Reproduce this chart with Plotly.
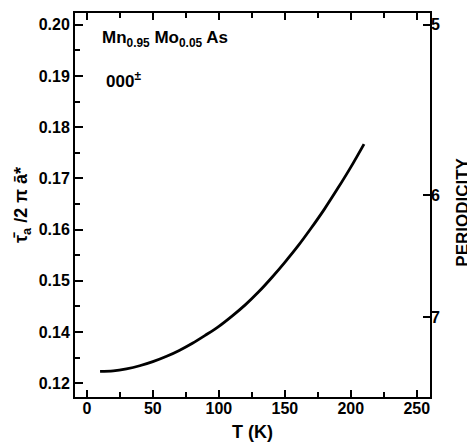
import plotly.graph_objects as go

# Data
temperature_K = [10, 20, 30, 40, 50, 60, 70, 80, 90, 100, 110, 120, 130, 140,
                 150, 160, 170, 180, 190, 200, 210]
tau_ratio = [0.1323, 0.1324, 0.1328, 0.1334, 0.1342, 0.1352, 0.1364, 0.1378,
             0.1394, 0.1411, 0.1431, 0.1453, 0.1478, 0.1506, 0.1536, 0.1568,
             0.1603, 0.1640, 0.1680, 0.1722, 0.1767]

x_tick_vals = [0, 50, 100, 150, 200, 250]
y_tick_vals = [0.13, 0.14, 0.15, 0.16, 0.17, 0.18, 0.19, 0.20]
y_tick_text = ["0.12", "0.14", "0.15", "0.16", "0.17", "0.18", "0.19", "0.20"]
periodicity = [5, 6, 7]

FONT = "Liberation Sans"
x_range = [-9, 260]
y_range = [0.1273, 0.2023]

fig = go.Figure()
fig.add_trace(go.Scatter(x=temperature_K, y=tau_ratio, mode="lines",
                         line=dict(color="black", width=2.8, shape="spline"),
                         showlegend=False, hoverinfo="skip"))
# invisible trace to activate the right axis
fig.add_trace(go.Scatter(x=[None], y=[None], yaxis="y2", showlegend=False))

tickfont = dict(family=FONT, size=16, color="black", weight="bold")

# page body has an 8px default margin, so the figure is sized to fit inside it
fig.update_layout(
    width=467, height=437,
    margin=dict(l=67, r=45, t=3, b=48),
    paper_bgcolor="white", plot_bgcolor="white",
    font=dict(family=FONT, color="black"),
    xaxis=dict(range=x_range, tickvals=x_tick_vals, ticks="inside", ticklen=7,
               tickwidth=1.5, tickcolor="black", showline=True, linecolor="black",
               linewidth=2, mirror="ticks", showgrid=False, zeroline=False,
               tickfont=tickfont, ticklabelstandoff=-4,
               minor=dict(dtick=25, tick0=0, ticks="inside", ticklen=5,
                          tickwidth=1.5, tickcolor="black", showgrid=False)),
    yaxis=dict(range=y_range, tickvals=y_tick_vals, ticktext=y_tick_text,
               ticks="inside", ticklen=8, tickwidth=1.5, tickcolor="black",
               showline=True, linecolor="black", linewidth=2, mirror=True,
               showgrid=False, zeroline=False, tickfont=tickfont,
               minor=dict(dtick=0.005, tick0=0.13, ticks="inside", ticklen=5,
                          tickwidth=1.5, tickcolor="black", showgrid=False),
               title=dict(text="τ̄<sub>a</sub> /2 π ā*",
                          font=dict(family=FONT, size=18, weight="bold"),
                          standoff=6)),
    yaxis2=dict(range=y_range, overlaying="y", side="right",
                tickvals=[1 / p for p in periodicity],
                ticktext=[str(p) for p in periodicity],
                ticks="inside", ticklen=7, tickwidth=1.5, tickcolor="black",
                showline=False, showgrid=False, zeroline=False, tickfont=tickfont),
    annotations=[
        dict(x=10, y=0.1973, xref="x", yref="y", xanchor="left", yanchor="middle",
             text="Mn<sub>0.95</sub> Mo<sub>0.05</sub> As", showarrow=False,
             font=dict(family=FONT, size=17, weight="bold")),
        dict(x=13, y=0.1892, xref="x", yref="y", xanchor="left", yanchor="middle",
             text="000<sup>±</sup>", showarrow=False,
             font=dict(family=FONT, size=17, weight="bold")),
        dict(x=1.093, y=0.48, xref="paper", yref="paper", xanchor="center",
             yanchor="middle", textangle=-90, text="PERIODICITY", showarrow=False,
             font=dict(family=FONT, size=17, weight="bold")),
        dict(x=0.5, y=-0.09, xref="paper", yref="paper", xanchor="center",
             yanchor="middle", text="T (K)", showarrow=False,
             font=dict(family=FONT, size=18, weight="bold")),
    ],
)

fig.write_html("out.html")
